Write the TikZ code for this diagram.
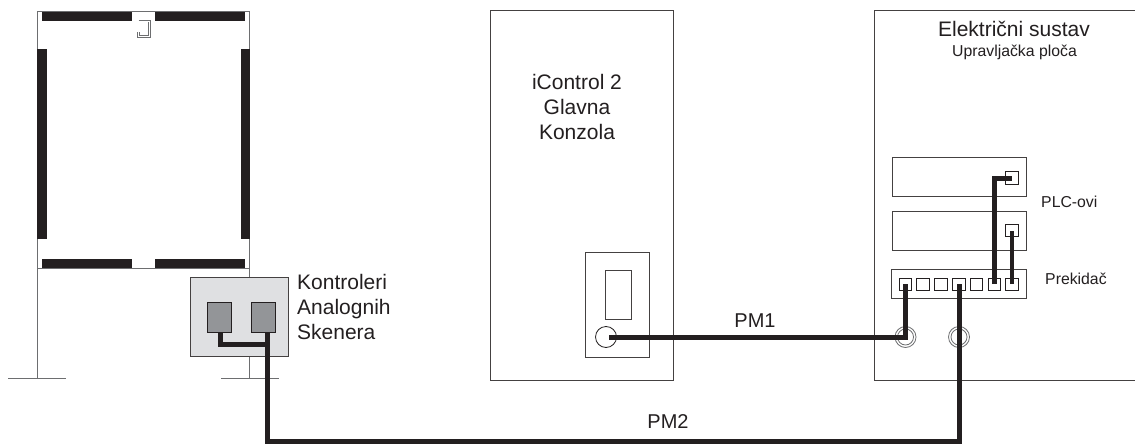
\documentclass[tikz,border=0pt]{standalone}
\usepackage{fontspec}
\setsansfont{Liberation Sans}
\usetikzlibrary{positioning}
\definecolor{framegray}{HTML}{6D6E70}
\definecolor{bargray}{HTML}{231F20}
\definecolor{scanfill}{HTML}{DFE0E2}
\definecolor{scanport}{HTML}{939598}

\begin{document}
\begin{tikzpicture}[
  x=1pt,y=-1pt,font=\sffamily,
  frameline/.style={draw=framegray, line width=1pt},
  boxnode/.style={rectangle, draw=bargray!85, fill=white, line width=1pt, inner sep=0pt},
  portnode/.style={rectangle, draw=bargray, fill=white, line width=0.9pt, inner sep=0pt, minimum size=12.5pt},
  bar/.style={fill=bargray},
  cable/.style={draw=bargray, line width=5pt, line join=miter},
  lbl/.style={font=\sffamily\fontsize{21}{24.7}\selectfont, color=bargray, align=center, inner sep=0pt},
  smalllbl/.style={font=\sffamily\fontsize{15.8}{18}\selectfont, color=bargray, align=left, inner sep=0pt},
]
\useasboundingbox (0,0) rectangle (1135,444);
% scanner frame
\draw[frameline] (37,378) -- (37,11.5) -- (249.5,11.5) -- (249.5,378);
\draw[frameline] (37,268) -- (249.5,268);
\draw[frameline] (8,378) -- (66,378); \draw[frameline] (221,378) -- (279,378);
\fill[bar] (42,12) rectangle (132,21); \fill[bar] (155,12) rectangle (245,21);
\fill[bar] (42,258.5) rectangle (132,268); \fill[bar] (155,258.5) rectangle (245,268);
\fill[bar] (37,49.5) rectangle (46.5,239); \fill[bar] (240.5,49.5) rectangle (250,239);
\draw[framegray,line width=1pt,double=white,double distance=0.8pt] (138.5,21) -- (149.5,21) -- (149.5,36.5) -- (138.5,36.5) -- (138.5,32);
% scanner controllers
\node[rectangle,draw=bargray!85,fill=scanfill,line width=0.9pt,inner sep=0pt,minimum width=98pt,minimum height=79pt] (scanbox) at (239.5,317) {};
\node[rectangle,draw=bargray,fill=scanport,line width=0.9pt,inner sep=0pt,minimum width=23.5pt,minimum height=30pt] (scanl) at (219.5,317) {};
\node[rectangle,draw=bargray,fill=scanport,line width=0.9pt,inner sep=0pt,minimum width=23.5pt,minimum height=30pt] (scanr) at (263.5,317) {};
\node[lbl,align=left,anchor=north west] (scantxt) at (297,274.5) {Kontroleri\\Analognih\\Skenera};
% console
\node[boxnode,minimum width=183pt,minimum height=369pt] (console) at (581.5,195.5) {};
\node[lbl] (consoletxt) at (577,107) {iControl 2\\Glavna\\Konzola};
\node[boxnode,minimum width=64pt,minimum height=105pt] (panel) at (617,304.5) {};
\node[boxnode,minimum width=26pt,minimum height=49pt] (screen) at (618.5,294.5) {};
\node[circle,draw=bargray,line width=0.8pt,inner sep=0pt,minimum size=21pt] (pmout) at (606,337) {};
% electrical cabinet
\node[boxnode,minimum width=270pt,minimum height=369pt] (cabinet) at (1009.5,195.5) {};
\node[lbl] (cabtxt) at (1014,29) {Električni sustav};
\node[smalllbl,align=center] (cabsub) at (1014.5,52) {Upravljačka ploča};
\node[boxnode,minimum width=133.5pt,minimum height=38.5pt] (plca) at (959.25,176.75) {};
\node[boxnode,minimum width=133.5pt,minimum height=38.5pt] (plcb) at (959.25,230.75) {};
\node[boxnode,minimum width=134.5pt,minimum height=29pt] (switch) at (958.75,283.5) {};
\node[portnode] (plcaport) at (1012,178) {};
\node[portnode] (plcbport) at (1012,230.5) {};
\foreach \i/\px in {1/905.5,2/923,3/941,4/959,5/976.5,6/994.5,7/1012}
  \node[portnode] (sw\i) at (\px,284.2) {};
\node[smalllbl,anchor=west] (plctxt) at (1041,202) {PLC-ovi};
\node[smalllbl,anchor=west] (switchtxt) at (1045,279) {Prekidač};
\node[circle,draw=framegray,line width=0.8pt,inner sep=0pt,minimum size=21pt] (coaxa) at (905.5,337) {};
\node[circle,draw=framegray,line width=0.8pt,inner sep=0pt,minimum size=16pt] (coaxai) at (905.5,337) {};
\node[circle,draw=framegray,line width=0.8pt,inner sep=0pt,minimum size=21pt] (coaxb) at (959,337) {};
\node[circle,draw=framegray,line width=0.8pt,inner sep=0pt,minimum size=16pt] (coaxbi) at (959,337) {};
% cables
\coordinate (pm2a) at (267,441);
\coordinate (pm2b) at (959,441);
\draw[cable] (scanl.south) ++(1,-0.5) |- (267,344.5);
\draw[cable] (scanr.south) ++(3.5,-0.5) -- (pm2a) -- (pm2b) -- (sw4.center);
\draw[cable] (pmout.center) ++(3,0) -- (coaxa.center) -- (sw1.center);
\draw[cable] (sw6.center) |- (plcaport.center);
\draw[cable,line width=4pt] (sw7.center) -- (plcbport.center);
\node[lbl,font=\sffamily\fontsize{20}{24}\selectfont] (pm1txt) at (755,321) {PM1};
\node[lbl,font=\sffamily\fontsize{20}{24}\selectfont] (pm2txt) at (668,422) {PM2};
\end{tikzpicture}
\end{document}
